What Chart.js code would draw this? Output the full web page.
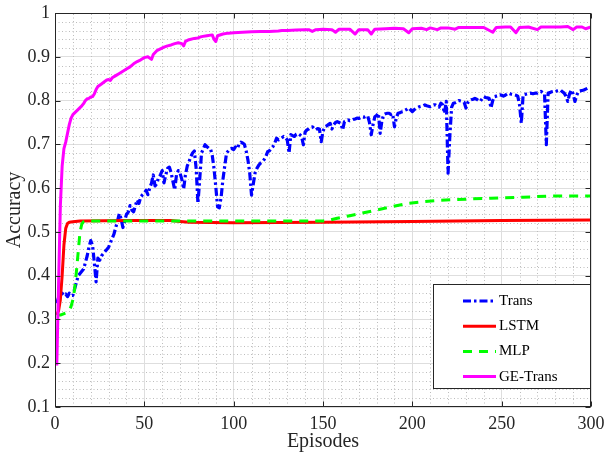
<!DOCTYPE html>
<html><head><meta charset="utf-8">
<script src="https://cdn.jsdelivr.net/npm/chart.js@4/dist/chart.umd.min.js"></script>
<style>html,body{margin:0;padding:0;background:#fff;} #wrap{width:606px;height:455px;}</style>
</head><body><div id="wrap"><canvas id="c" width="606" height="455"></canvas></div>
<script>
// ---- data ----
const seriesNames = ['Trans', 'LSTM', 'MLP', 'GE-Trans'];
const xTicks = [0, 50, 100, 150, 200, 250, 300];
const yTicks = [0.1, 0.2, 0.3, 0.4, 0.5, 0.6, 0.7, 0.8, 0.9, 1];

// Trans: one value per episode 1..300
const transAcc = [
0.337,0.35,0.355,0.36,0.355,0.358,0.352,0.36,0.355,0.355,
0.37,0.385,0.40,0.405,0.41,0.415,0.43,0.445,0.465,0.48,
0.47,0.43,0.386,0.44,0.435,0.445,0.45,0.455,0.46,0.465,
0.475,0.485,0.495,0.51,0.525,0.542,0.53,0.51,0.525,0.54,
0.545,0.56,0.55,0.546,0.56,0.573,0.565,0.58,0.585,0.589,
0.595,0.585,0.60,0.611,0.63,0.605,0.61,0.625,0.63,0.64,
0.612,0.63,0.645,0.648,0.635,0.615,0.596,0.63,0.64,0.634,
0.62,0.598,0.63,0.65,0.66,0.672,0.68,0.685,0.645,0.565,
0.62,0.68,0.69,0.699,0.695,0.691,0.69,0.675,0.645,0.603,
0.557,0.555,0.58,0.62,0.65,0.68,0.685,0.69,0.691,0.688,
0.694,0.69,0.70,0.705,0.703,0.70,0.685,0.664,0.634,0.584,
0.61,0.635,0.645,0.652,0.657,0.66,0.665,0.672,0.683,0.685,
0.691,0.695,0.703,0.714,0.71,0.712,0.715,0.718,0.715,0.71,
0.68,0.722,0.72,0.718,0.723,0.725,0.722,0.718,0.699,0.728,
0.733,0.735,0.738,0.74,0.737,0.733,0.736,0.735,0.706,0.73,
0.74,0.742,0.745,0.748,0.735,0.745,0.75,0.752,0.75,0.748,
0.733,0.752,0.754,0.756,0.754,0.755,0.757,0.758,0.76,0.759,
0.761,0.763,0.762,0.764,0.765,0.75,0.722,0.745,0.763,0.766,
0.771,0.725,0.755,0.768,0.77,0.771,0.771,0.768,0.77,0.74,
0.76,0.771,0.772,0.774,0.775,0.778,0.78,0.783,0.779,0.775,
0.779,0.782,0.784,0.786,0.787,0.788,0.79,0.788,0.787,0.786,
0.788,0.79,0.79,0.787,0.785,0.794,0.79,0.771,0.798,0.634,
0.72,0.785,0.794,0.795,0.797,0.80,0.799,0.798,0.796,0.783,
0.795,0.80,0.802,0.803,0.805,0.803,0.80,0.798,0.804,0.809,
0.807,0.806,0.805,0.783,0.80,0.809,0.81,0.811,0.813,0.812,
0.81,0.812,0.815,0.817,0.815,0.814,0.813,0.812,0.81,0.79,
0.748,0.813,0.814,0.815,0.816,0.817,0.816,0.816,0.817,0.817,
0.819,0.821,0.818,0.815,0.699,0.817,0.818,0.82,0.821,0.82,
0.822,0.823,0.824,0.82,0.817,0.81,0.798,0.815,0.824,0.815,
0.798,0.812,0.821,0.822,0.823,0.824,0.826,0.828,0.826,0.826
];
const transEp = transAcc.map((_, i) => i + 1);

const lstmEp  = [1, 2, 3, 4, 5, 6, 7, 8, 10, 14, 40, 65, 70, 75, 100, 150, 200, 250, 300];
const lstmAcc = [0.31, 0.32, 0.345, 0.40, 0.47, 0.508, 0.519, 0.522, 0.523, 0.525, 0.526, 0.526, 0.524, 0.522, 0.521, 0.522, 0.524, 0.526, 0.527];

const mlpEp  = [1, 3, 6, 8, 9, 10, 11, 12, 13, 14, 15, 16, 18, 150, 153, 158, 165, 171, 180, 188, 197, 206, 215, 225, 244, 262, 277, 300];
const mlpAcc = [0.31, 0.31, 0.315, 0.32, 0.33, 0.345, 0.37, 0.41, 0.455, 0.50, 0.518, 0.523, 0.525, 0.525, 0.526, 0.531, 0.537, 0.542, 0.55, 0.557, 0.565, 0.569, 0.572, 0.574, 0.577, 0.579, 0.582, 0.582];

const geEp  = [1, 2, 3, 4, 5, 6, 7, 8, 9, 10, 11, 12, 13, 14, 15, 16, 17, 18, 19, 20, 21, 22, 23, 24, 26, 28, 29, 30, 31, 32, 34, 36, 38, 40, 42, 44, 46, 48, 50, 52, 53, 54, 55, 57, 59, 61, 63, 65, 67, 69, 71, 72, 73, 75, 78, 80, 82, 85, 88, 89, 90, 91, 94, 97, 100, 105, 110, 115, 120, 125, 127, 130, 135, 140, 142, 144, 146, 150, 155, 157, 159, 165, 168, 170, 175, 177, 179, 185, 190, 195, 198, 200, 205, 208, 210, 214, 216, 220, 224, 226, 230, 235, 240, 245, 247, 252, 255, 258, 260, 265, 270, 272, 278, 283, 287, 290, 292, 295, 297, 300];
const geAcc = [0.195, 0.38, 0.56, 0.65, 0.69, 0.705, 0.725, 0.745, 0.76, 0.768, 0.772, 0.776, 0.78, 0.784, 0.788, 0.793, 0.80, 0.804, 0.805, 0.808, 0.809, 0.815, 0.825, 0.832, 0.838, 0.844, 0.847, 0.848, 0.846, 0.852, 0.857, 0.862, 0.867, 0.872, 0.877, 0.884, 0.889, 0.893, 0.898, 0.90, 0.897, 0.894, 0.905, 0.914, 0.918, 0.922, 0.925, 0.927, 0.930, 0.932, 0.930, 0.925, 0.935, 0.939, 0.942, 0.943, 0.946, 0.948, 0.950, 0.94, 0.935, 0.948, 0.952, 0.954, 0.955, 0.956, 0.957, 0.958, 0.958, 0.959, 0.960, 0.960, 0.961, 0.962, 0.962, 0.958, 0.962, 0.963, 0.962, 0.956, 0.963, 0.963, 0.952, 0.962, 0.962, 0.952, 0.963, 0.964, 0.965, 0.964, 0.955, 0.964, 0.965, 0.962, 0.966, 0.962, 0.966, 0.966, 0.963, 0.967, 0.967, 0.967, 0.967, 0.956, 0.967, 0.968, 0.968, 0.955, 0.967, 0.968, 0.962, 0.968, 0.968, 0.968, 0.969, 0.962, 0.968, 0.968, 0.964, 0.968];

// ---- styling ----
const FONT = '"Liberation Serif", "Times New Roman", serif';
const AXC = '#262626';
const pts = (xs, ys) => xs.map((x, i) => ({ x: x, y: ys[i] }));

const datasets = [
  { label: seriesNames[0], data: pts(transEp, transAcc), borderColor: '#0000ff', borderWidth: 3.2, borderDash: [8, 3, 2.5, 3], order: 4 },
  { label: seriesNames[1], data: pts(lstmEp, lstmAcc), borderColor: '#ff0000', borderWidth: 3, borderDash: [], order: 3 },
  { label: seriesNames[2], data: pts(mlpEp, mlpAcc), borderColor: '#00ff00', borderWidth: 3, borderDash: [9, 7], order: 2 },
  { label: seriesNames[3], data: pts(geEp, geAcc), borderColor: '#ff00ff', borderWidth: 3, borderDash: [], order: 1 }
];

const minorGrid = {
  id: 'minorGrid',
  beforeDatasetsDraw(chart) {
    const { ctx, chartArea: a, scales: { x, y } } = chart;
    ctx.save();
    ctx.beginPath(); ctx.rect(a.left, a.top, a.right - a.left, a.bottom - a.top); ctx.clip();
    ctx.strokeStyle = '#bdbdbd'; ctx.lineWidth = 1; ctx.setLineDash([1, 2.5]);
    for (let v = 10; v < 300; v += 10) {
      if (v % 50 === 0) continue;
      const px = Math.round(x.getPixelForValue(v)) + 0.5;
      ctx.beginPath(); ctx.moveTo(px, a.bottom); ctx.lineTo(px, a.top); ctx.stroke();
    }
    for (let k = 6; k < 50; k++) {
      if (k % 5 === 0) continue;
      const py = Math.round(y.getPixelForValue(k / 50)) + 0.5;
      ctx.beginPath(); ctx.moveTo(a.left, py); ctx.lineTo(a.right, py); ctx.stroke();
    }
    ctx.restore();
  }
};

const axesBox = {
  id: 'axesBox',
  afterDatasetsDraw(chart) {
    const { ctx, chartArea: a, scales: { x, y } } = chart;
    ctx.save();
    ctx.strokeStyle = AXC; ctx.lineWidth = 1; ctx.setLineDash([]);
    const L = Math.round(a.left) + 0.5, R = Math.round(a.right) - 0.5, T = Math.round(a.top) + 0.5, B = Math.round(a.bottom) - 0.5;
    ctx.strokeRect(L, T, R - L, B - T);
    const tl = 5;
    ctx.beginPath();
    xTicks.forEach(v => {
      const px = Math.round(x.getPixelForValue(v)) + 0.5;
      ctx.moveTo(px, B); ctx.lineTo(px, B - tl);
      ctx.moveTo(px, T); ctx.lineTo(px, T + tl);
    });
    yTicks.forEach(v => {
      const py = Math.round(y.getPixelForValue(v)) + 0.5;
      ctx.moveTo(L, py); ctx.lineTo(L + tl, py);
      ctx.moveTo(R, py); ctx.lineTo(R - tl, py);
    });
    ctx.stroke();
    ctx.restore();
  }
};

const boxLegend = {
  id: 'boxLegend',
  afterDraw(chart) {
    const { ctx, chartArea: a } = chart;
    const w = 157, h = 104;
    const bx = Math.round(a.right) - 1 - w, by = Math.round(a.bottom) - 19 - h;
    ctx.save();
    ctx.fillStyle = '#ffffff';
    ctx.fillRect(bx, by, w, h);
    ctx.strokeStyle = AXC; ctx.lineWidth = 1; ctx.setLineDash([]);
    ctx.strokeRect(bx + 0.5, by + 0.5, w, h);
    ctx.font = '15px ' + FONT;
    ctx.textBaseline = 'middle';
    ctx.fillStyle = '#000';
    chart.data.datasets.forEach((ds, i) => {
      const cy = by + 17 + i * 25.2;
      ctx.strokeStyle = ds.borderColor; ctx.lineWidth = 3; ctx.lineCap = 'butt';
      ctx.setLineDash(ds.borderDash || []);
      ctx.beginPath(); ctx.moveTo(bx + 30, cy); ctx.lineTo(bx + 63, cy); ctx.stroke();
      ctx.setLineDash([]);
      ctx.fillText(seriesNames[i], bx + 66, cy);
    });
    ctx.restore();
  }
};

new Chart(document.getElementById('c'), {
  type: 'line',
  data: { datasets: datasets },
  options: {
    responsive: false,
    animation: false,
    devicePixelRatio: 1,
    layout: { padding: { left: 0, right: 15, top: 13, bottom: 0 } },
    elements: { point: { radius: 0 }, line: { tension: 0, borderCapStyle: 'butt', borderJoinStyle: 'round', fill: false } },
    plugins: { legend: { display: false }, tooltip: { enabled: false } },
    scales: {
      x: {
        type: 'linear', min: 0, max: 300,
        afterBuildTicks: s => { s.ticks = xTicks.map(v => ({ value: v })); },
        afterFit: s => { s.height = 48; s.paddingLeft = 0; s.paddingRight = 0; },
        ticks: { font: { family: FONT, size: 18 }, color: AXC, padding: 6, maxRotation: 0 },
        grid: { color: '#dedede', lineWidth: 1, drawTicks: false },
        border: { display: false },
        title: { display: true, text: 'Episodes', font: { family: FONT, size: 20 }, color: AXC, padding: { top: 0, bottom: 1 } }
      },
      y: {
        type: 'linear', min: 0.1, max: 1,
        afterBuildTicks: s => { s.ticks = yTicks.map(v => ({ value: v })); },
        afterFit: s => { s.width = 55; s.paddingTop = 0; s.paddingBottom = 0; },
        ticks: { font: { family: FONT, size: 18 }, color: AXC, padding: 5, callback: v => String(+(+v).toFixed(2)) },
        grid: { color: '#dedede', lineWidth: 1, drawTicks: false },
        border: { display: false },
        title: { display: true, text: 'Accuracy', font: { family: FONT, size: 20 }, color: AXC, padding: { top: 3, bottom: 0 } }
      }
    }
  },
  plugins: [minorGrid, axesBox, boxLegend]
});
</script></body></html>
